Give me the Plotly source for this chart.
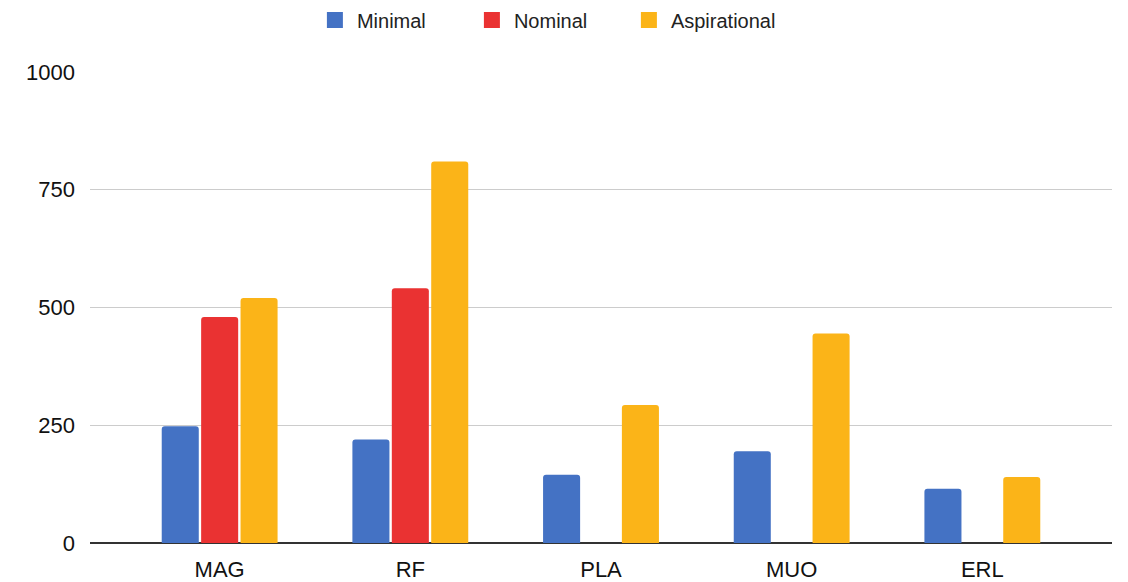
import plotly.graph_objects as go

categories = ["MAG", "RF", "PLA", "MUO", "ERL"]
minimal = [248, 220, 145, 195, 115]
nominal = [480, 541, 0, 0, 0]
aspirational = [520, 810, 293, 445, 140]
y_ticks = [0, 250, 500, 750, 1000]

colors = {"Minimal": "#4472C4", "Nominal": "#EA3232", "Aspirational": "#FBB418"}

fig = go.Figure()
for name, vals in [("Minimal", minimal), ("Nominal", nominal), ("Aspirational", aspirational)]:
    fig.add_trace(go.Bar(x=categories, y=vals, name=name, marker_color=colors[name],
                         marker_line_width=0, legendgroup=name, showlegend=False))
for name in ["Minimal", "Nominal", "Aspirational"]:
    fig.add_trace(go.Scatter(x=[None], y=[None], mode="markers", name=name, legendgroup=name,
                             marker=dict(symbol="square", size=20, color=colors[name])))

# page body has an 8px margin, so the figure is drawn 8px right/down
fig.update_layout(
    width=1120, height=574,
    margin=dict(l=82, r=16, t=64, b=39, autoexpand=False),
    plot_bgcolor="white", paper_bgcolor="white",
    barmode="group", bargap=0.38, bargroupgap=0.06, barcornerradius=3,
    font=dict(family="Liberation Sans, Arial, sans-serif", size=22, color="#111"),
    legend=dict(orientation="h", x=0.4825, xanchor="center", y=1 - 12 / 574, yanchor="middle",
                yref="container", xref="container", font=dict(size=20, color="#222"),
                itemwidth=34, entrywidthmode="pixels", entrywidth=108),
    showlegend=True,
)
fig.update_xaxes(range=[-0.68, 4.68], showgrid=False, ticks="", showline=False,
                 automargin=False, ticklabelstandoff=11,
                 tickfont=dict(size=22, color="#111"))
fig.update_yaxes(range=[0, 1000], tickvals=y_ticks, showgrid=True, gridcolor="#CCCCCC",
                 gridwidth=1, zeroline=True, zerolinecolor="#333", zerolinewidth=1.5,
                 automargin=False, ticks="", ticklabelstandoff=14,
                 tickfont=dict(size=22, color="#111"))

fig.write_html("out.html")
